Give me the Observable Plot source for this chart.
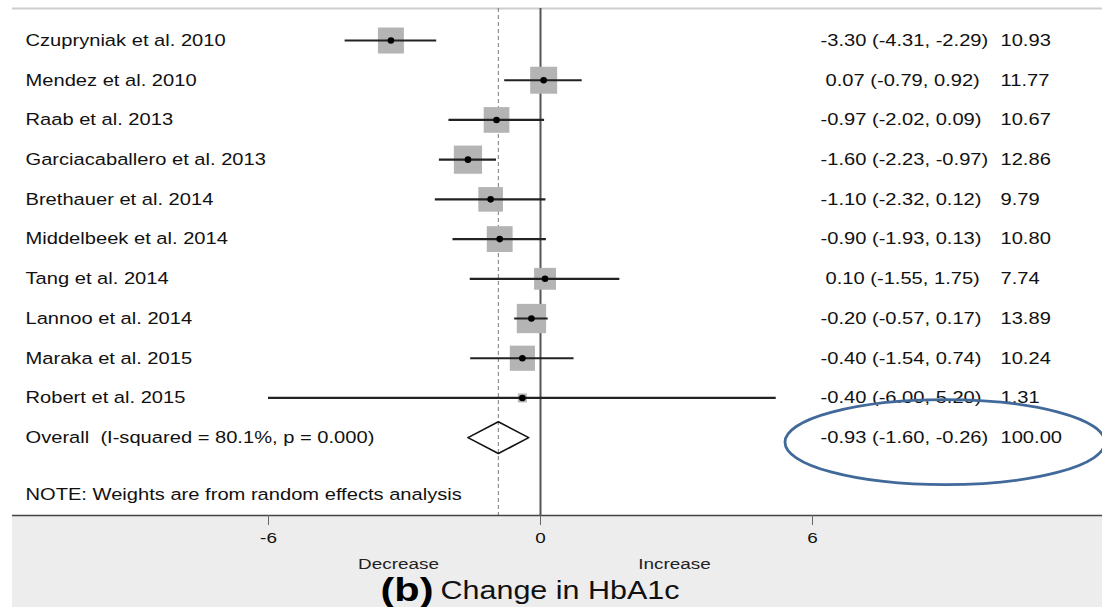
<!DOCTYPE html>
<html><head><meta charset="utf-8">
<script src="https://cdn.jsdelivr.net/npm/d3@7"></script>
<script src="https://cdn.jsdelivr.net/npm/@observablehq/plot@0.6"></script>
<style>html,body{margin:0;padding:0;background:#fff;} svg{display:block;}</style>
</head><body><div id="chart"></div>
<script>
// ---- data ----
const studies = ["Czupryniak et al. 2010","Mendez et al. 2010","Raab et al. 2013","Garciacaballero et al. 2013","Brethauer et al. 2014","Middelbeek et al. 2014","Tang et al. 2014","Lannoo et al. 2014","Maraka et al. 2015","Robert et al. 2015"];
const estimates = [-3.30, 0.07, -0.97, -1.60, -1.10, -0.90, 0.10, -0.20, -0.40, -0.40];
const lowerCI   = [-4.31, -0.79, -2.02, -2.23, -2.32, -1.93, -1.55, -0.57, -1.54, -6.00];
const upperCI   = [-2.29, 0.92, 0.09, -0.97, 0.12, 0.13, 1.75, 0.17, 0.74, 5.20];
const weights   = [10.93, 11.77, 10.67, 12.86, 9.79, 10.80, 7.74, 13.89, 10.24, 1.31];
const overallLabel = "Overall  (I-squared = 80.1%, p = 0.000)";
const overallEst = -0.93, overallLo = -1.60, overallHi = -0.26, overallWeight = 100.00;
const noteText = "NOTE: Weights are from random effects analysis";
const xTicks = [-6, 0, 6];
const directionLabels = ["Decrease", "Increase"];
const titleBold = "(b)";
const titleText = "Change in HbA1c";

// ---- layout ----
const W = 1102, H = 607, axisPx = 515;
const xDomain = [-540 / 45.333, 562 / 45.333];
const yDomain = [-1.0076, 11.96];
const px = p => xDomain[0] + p / W * (xDomain[1] - xDomain[0]);
const py = p => yDomain[0] + p / axisPx * (yDomain[1] - yDomain[0]);
const FONT = "'Liberation Sans', Arial, Helvetica, sans-serif";

const rows = studies.map((s, i) => ({
  study: s, row: i, est: estimates[i], lo: lowerCI[i], hi: upperCI[i], w: weights[i],
  ci: `${estimates[i].toFixed(2)} (${lowerCI[i].toFixed(2)}, ${upperCI[i].toFixed(2)})`,
  wt: weights[i].toFixed(2)
}));
const overallRow = studies.length;
const overall = [{label: overallLabel, row: overallRow, est: overallEst,
  ci: `${overallEst.toFixed(2)} (${overallLo.toFixed(2)}, ${overallHi.toFixed(2)})`, wt: overallWeight.toFixed(2)}];
const dh = 0.40;
const diamond = [
  {x: overallLo, y: overallRow}, {x: overallEst, y: overallRow - dh},
  {x: overallHi, y: overallRow}, {x: overallEst, y: overallRow + dh}, {x: overallLo, y: overallRow}
];
const topRow = py(8), axisRow = yDomain[1], bottomRow = py(H);
const ciX = d => px(d.est < 0 ? 820 : 825);

const fs = 16.5;
const chart = Plot.plot({
  width: W, height: H,
  marginLeft: 0, marginRight: 0, marginTop: 0, marginBottom: H - axisPx,
  style: {fontFamily: FONT, background: "#fff", color: "#111"},
  x: {domain: xDomain, range: [0, W]},
  y: {type: "linear", domain: yDomain, range: [0, axisPx], axis: null},
  r: {type: "sqrt", domain: [0, 13.89], range: [0, 16.54]},
  marks: [
    Plot.rect([0], {x1: px(12), x2: xDomain[1], y1: axisRow, y2: bottomRow, fill: "#ededed"}),
    Plot.ruleY([topRow], {x1: px(12), x2: xDomain[1], stroke: "#cdcdcd", strokeWidth: 2}),
    Plot.ruleX([overallEst], {y1: topRow, y2: axisRow, stroke: "#7a7a7a", strokeWidth: 1, strokeDasharray: "4,3"}),
    Plot.ruleX([0], {y1: topRow, y2: axisRow, stroke: "#555", strokeWidth: 2}),
    Plot.ruleY([axisRow], {x1: px(12), x2: xDomain[1], stroke: "#444", strokeWidth: 1.5}),
    Plot.dot(rows, {x: "est", y: "row", r: "w", symbol: "square", fill: "#b4b4b4", stroke: "none"}),
    Plot.ruleY(rows, {y: "row", x1: "lo", x2: "hi", stroke: "#222", strokeWidth: 2.2}),
    Plot.dot(rows, {x: "est", y: "row", r: 3.3, fill: "#000"}),
    Plot.line(diamond, {x: "x", y: "y", stroke: "#111", strokeWidth: 1.6}),
    Plot.text(rows, {x: px(25), y: "row", text: "study", textAnchor: "start", fontSize: fs, fill: "#111"}),
    Plot.text(rows, {x: ciX, y: "row", text: "ci", textAnchor: "start", fontSize: fs, fill: "#111"}),
    Plot.text(rows, {x: px(1000), y: "row", text: "wt", textAnchor: "start", fontSize: fs, fill: "#111"}),
    Plot.text(overall, {x: px(25), y: "row", text: "label", textAnchor: "start", fontSize: fs, fill: "#111"}),
    Plot.text(overall, {x: ciX, y: "row", text: "ci", textAnchor: "start", fontSize: fs, fill: "#111"}),
    Plot.text(overall, {x: px(1000), y: "row", text: "wt", textAnchor: "start", fontSize: fs, fill: "#111"}),
    Plot.text([noteText], {x: px(25), y: py(494), text: d => d, textAnchor: "start", fontSize: fs, fill: "#111"}),
    Plot.axisX({ticks: xTicks, tickFormat: d => String(d), tickSize: 10, tickPadding: 6, fontSize: 15.5, stroke: "#666", label: null, anchor: "bottom", fill: "#111"}),
    Plot.text(directionLabels, {x: (d, i) => i ? px(674) : px(398), y: axisRow, dy: 53, lineAnchor: "bottom", text: d => d, fontSize: 15.5, fill: "#222"}),
    Plot.text([titleBold], {x: px(433), y: axisRow, dy: 85, lineAnchor: "bottom", textAnchor: "end", text: d => d, fontSize: 34, fontWeight: "bold", fill: "#000"}),
    Plot.text([titleText], {x: px(440), y: axisRow, dy: 83, lineAnchor: "bottom", textAnchor: "start", text: d => d, fontSize: 25, fill: "#111"})
  ]
});

// horizontal stretch of all text to match the reference's wide lettering
const STRETCH = 1.22;
chart.querySelectorAll("text").forEach(t => {
  const tr = t.getAttribute("transform");
  if (tr) t.setAttribute("transform", tr + ` scale(${STRETCH},1)`);
  else {
    const x = +(t.getAttribute("x") || 0), y = +(t.getAttribute("y") || 0);
    t.removeAttribute("x"); t.removeAttribute("y");
    t.setAttribute("transform", `translate(${x},${y}) scale(${STRETCH},1)`);
  }
});

// highlight ellipse around the overall estimate text
const sx = chart.scale("x"), sy = chart.scale("y");
d3.select(chart).append("ellipse")
  .attr("cx", sx.apply(px(945))).attr("cy", sy.apply(overallRow) + 5)
  .attr("rx", 160).attr("ry", 42.5)
  .attr("fill", "none").attr("stroke", "#41699a").attr("stroke-width", 2.8);

document.getElementById("chart").appendChild(chart);
</script></body></html>
